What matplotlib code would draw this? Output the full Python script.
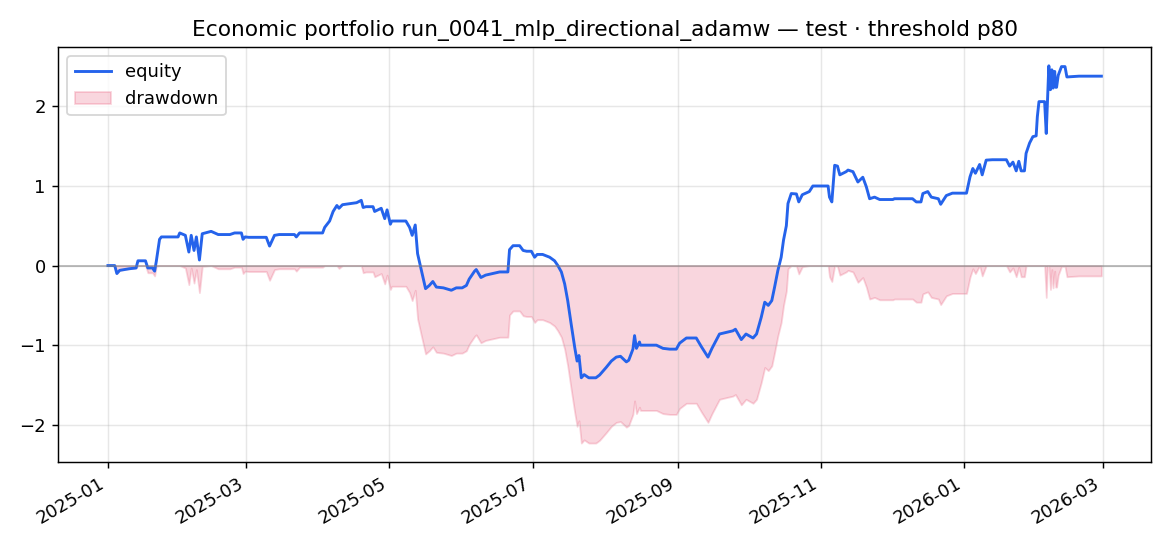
import numpy as np
import pandas as pd
import matplotlib
matplotlib.use("Agg")
import matplotlib.pyplot as plt
import matplotlib.dates as mdates

# equity curve (days since 2025-01-01, cumulative return)
start_date = "2025-01-01"
day_offsets = [
    0, 2.9, 3.8, 5, 9, 12, 12.8, 16, 17, 19, 19.9, 20.6, 22, 22.8, 29.9, 30.6,
    33, 34.5, 35.5, 36.7, 37.7, 39, 40.2, 44, 47, 52, 54, 56.9, 57.6, 58.5, 60,
    67.5, 68.9, 71, 73, 79.5, 80.3, 81.7, 91.5, 92.4, 94.5, 96, 97.6, 98.5, 100,
    106, 108, 108.8, 110, 113, 113.7, 116.5, 118, 119, 120.4, 121, 127, 128.6,
    129.7, 131, 132, 133.6, 135.4, 137, 138.5, 140, 143, 146.4, 148.5, 151,
    152.8, 154, 156.3, 157, 159, 161, 167, 170.5, 171.2, 172.7, 175.5, 177,
    178.5, 180.5, 181.9, 183, 185.3, 188.3, 190.4, 191.8, 193.3, 194.7, 196,
    197.5, 199, 200, 200.8, 201.8, 203, 205, 208, 209.6, 212.4, 214.6, 216.7,
    218.5, 221, 222, 223.8, 224.5, 225.3, 226.6, 227, 233.8, 236.6, 239.5,
    242.3, 243.7, 246.6, 250.8, 253, 255.8, 257.5, 260.7, 263.5, 266.4, 267.5,
    270, 272, 275, 276.5, 278.5, 280, 281.5, 283, 284.2, 285.6, 287, 288,
    289.2, 289.9, 291.3, 293.5, 294.5, 296, 299, 300.5, 307, 307.6, 308.6,
    309.8, 311, 312, 314.7, 315.5, 317.6, 319.7, 321.8, 323.3, 324.7, 326.8,
    329, 334.6, 335.3, 343, 344.6, 346.6, 347.4, 349.5, 351, 354, 355, 357.4,
    360, 366, 367.5, 368.7, 369.8, 371.6, 372.7, 374.4, 377, 383, 384.4,
    385.8, 387.2, 388.3, 389.3, 390.7, 391.4, 392.9, 394.3, 395.7, 396.2,
    396.9, 399.3, 400, 400.5, 401.1, 401.8, 402.4, 402.9, 403.6, 404, 404.4,
    405.1, 406.5, 408, 408.8, 414, 423.5,
]
equity = [
    0.0, 0.0, -0.10, -0.06, -0.04, -0.03, 0.06, 0.06, -0.03, -0.03, -0.07, 0.05,
    0.33, 0.36, 0.36, 0.41, 0.38, 0.17, 0.38, 0.19, 0.36, 0.07, 0.40, 0.43,
    0.39, 0.39, 0.41, 0.41, 0.33, 0.36, 0.355, 0.355, 0.245, 0.38, 0.39, 0.39,
    0.36, 0.41, 0.41, 0.48, 0.56, 0.68, 0.755, 0.72, 0.765, 0.79, 0.82, 0.73,
    0.74, 0.74, 0.68, 0.72, 0.59, 0.70, 0.52, 0.56, 0.56, 0.48, 0.38, 0.51,
    0.15, -0.06, -0.29, -0.25, -0.20, -0.27, -0.28, -0.31, -0.28, -0.28,
    -0.25, -0.17, -0.07, -0.05, -0.15, -0.12, -0.08, -0.08, 0.20, 0.25, 0.25,
    0.19, 0.18, 0.18, 0.105, 0.14, 0.14, 0.105, 0.06, 0.0, -0.08, -0.23,
    -0.44, -0.74, -1.03, -1.20, -1.13, -1.41, -1.37, -1.41, -1.41, -1.375,
    -1.28, -1.20, -1.15, -1.14, -1.21, -1.19, -1.05, -0.88, -1.04, -0.96,
    -1.0, -1.0, -1.04, -1.05, -1.05, -0.975, -0.91, -0.91, -1.02, -1.15,
    -1.04, -0.86, -0.84, -0.82, -0.80, -0.93, -0.86, -0.91, -0.86, -0.65,
    -0.46, -0.50, -0.44, -0.27, -0.06, 0.105, 0.32, 0.50, 0.78, 0.905, 0.90,
    0.80, 0.89, 0.93, 1.0, 1.0, 0.86, 0.80, 1.26, 1.25, 1.14, 1.18, 1.20,
    1.18, 1.05, 1.11, 0.99, 0.84, 0.86, 0.83, 0.83, 0.84, 0.84, 0.80, 0.80,
    0.905, 0.93, 0.86, 0.84, 0.77, 0.88, 0.91, 0.91, 1.115, 1.22, 1.16, 1.27,
    1.14, 1.325, 1.33, 1.33, 1.25, 1.30, 1.19, 1.31, 1.19, 1.19, 1.41, 1.54,
    1.62, 1.63, 1.87, 2.06, 2.06, 1.66, 2.06, 2.51, 2.21, 2.46, 2.23, 2.44,
    2.24, 2.24, 2.39, 2.50, 2.50, 2.37, 2.38, 2.38,
]

title = "Economic portfolio run_0041_mlp_directional_adamw \u2014 test \u00b7 threshold p80"

dates = pd.Timestamp(start_date) + pd.to_timedelta(day_offsets, unit="D")
eq = np.array(equity)
drawdown = eq - np.maximum.accumulate(eq)

fig, ax = plt.subplots(figsize=(9, 4.2), dpi=130)

ax.plot(dates, eq, color="#2563eb", lw=1.6, label="equity")
ax.fill_between(dates, drawdown, 0, color="#e11d48", alpha=0.18, label="drawdown")
ax.axhline(0, color="gray", lw=0.9, alpha=0.6)

ax.xaxis.set_major_locator(mdates.MonthLocator(bymonth=[1, 3, 5, 7, 9, 11]))
ax.xaxis.set_major_formatter(mdates.DateFormatter("%Y-%m"))
ax.grid(True, alpha=0.3)
ax.legend(loc="upper left")
ax.set_title(title, fontsize=12)

fig.autofmt_xdate()
fig.subplots_adjust(left=0.0498, right=0.9838, bottom=0.154, top=0.914)
fig.savefig("out.png", dpi=130)
plt.close(fig)
